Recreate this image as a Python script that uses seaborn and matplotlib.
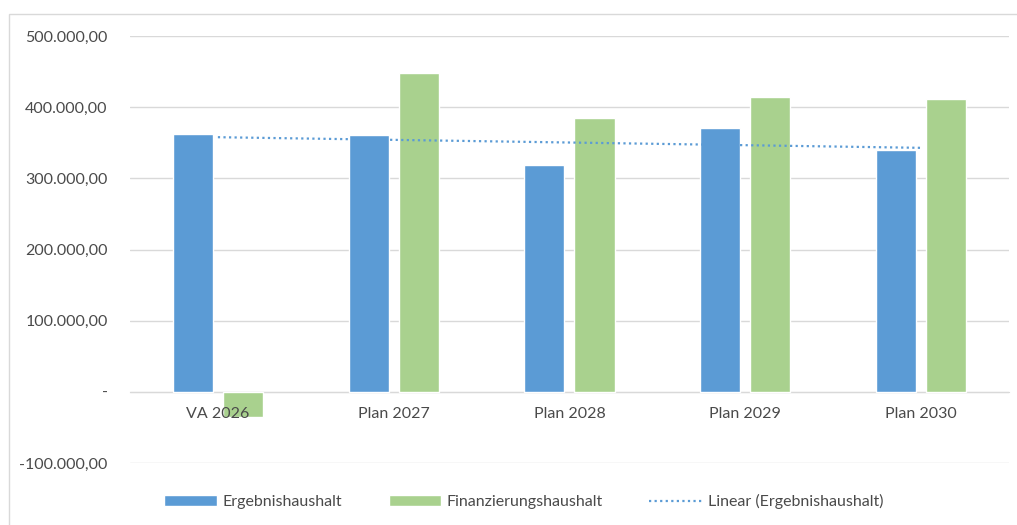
import numpy as np
import pandas as pd
import matplotlib.pyplot as plt
import seaborn as sns
from matplotlib.patches import Patch, Rectangle
from matplotlib.lines import Line2D
from matplotlib.ticker import FuncFormatter

# dati
kategorien = ["VA 2026", "Plan 2027", "Plan 2028", "Plan 2029", "Plan 2030"]
ergebnis = [363000, 360600, 318300, 370400, 339400]
finanzierung = [-35200, 447500, 385000, 415000, 410800]

serie = ["Ergebnishaushalt", "Finanzierungshaushalt"]
colori = {"Ergebnishaushalt": "#5B9BD5", "Finanzierungshaushalt": "#A9D18E"}

df = pd.DataFrame({
    "kategorie": kategorien * 2,
    "serie": [serie[0]] * 5 + [serie[1]] * 5,
    "wert": ergebnis + finanzierung,
})

sns.set_style("white")
plt.rcParams["font.family"] = ["Lato", "DejaVu Sans"]
testo = "#4A4A4A"
punti = (0, (1.0, 1.5))

fig = plt.figure(figsize=(10.17, 5.25), dpi=100)
ax = fig.add_axes([0.1278, 0.1181, 0.8643, 0.8133])

sns.barplot(data=df, x="kategorie", y="wert", hue="serie", palette=colori,
            saturation=1, width=0.57, gap=0.2, ax=ax, legend=False, zorder=2)

# trendlinie lineare (come in Excel)
x = np.arange(len(kategorien))
m, q = np.polyfit(x, ergebnis, 1)
ax.plot(x, m * x + q, color="#5B9BD5", linewidth=1.6, linestyle=punti,
        dash_capstyle="butt", zorder=3)

ax.set_ylim(-100000, 500000)
ax.set_xlim(-0.5, 4.5)
ax.set_yticks(np.arange(-100000, 500001, 100000))


def fmt(v, pos):
    if v == 0:
        return "-"
    s = f"{abs(v):,.2f}".replace(",", "X").replace(".", ",").replace("X", ".")
    return ("-" if v < 0 else "") + s


ax.yaxis.set_major_formatter(FuncFormatter(fmt))
ax.grid(axis="y", color="#D9D9D9", linewidth=1)
ax.set_axisbelow(True)
# le etichette x sopra le barre (VA 2026)
ax.xaxis.set_zorder(5)
for s in ["top", "right", "left"]:
    ax.spines[s].set_visible(False)
ax.spines["bottom"].set_position(("data", 0))
ax.spines["bottom"].set_color("#D9D9D9")
ax.spines["bottom"].set_zorder(0)
ax.tick_params(axis="x", length=0, pad=11, labelsize=11.5, labelcolor=testo)
ax.tick_params(axis="y", length=0, pad=16, labelsize=11.5, labelcolor=testo)
ax.set_xlabel("")
ax.set_ylabel("")

# legenda in basso
handles = [
    Patch(facecolor=colori[serie[0]], label=serie[0]),
    Patch(facecolor=colori[serie[1]], label=serie[1]),
    Line2D([0], [0], color="#5B9BD5", linewidth=1.6, linestyle=punti,
           dash_capstyle="butt", label="Linear (Ergebnishaushalt)"),
]
fig.legend(handles=handles, loc="center", bbox_to_anchor=(0.515, 0.044), ncol=3,
           frameon=False, fontsize=11.5, labelcolor=testo, handlelength=3.3,
           handleheight=0.65, handletextpad=0.35, columnspacing=2.9)

# cornice grigia del grafico
fig.patches.append(Rectangle((9 / 1017, -0.05), 1.1, 1 - 14 / 525 + 0.05,
                             transform=fig.transFigure, fill=False,
                             edgecolor="#D9D9D9", linewidth=1))

fig.savefig("out.png", dpi=100)
